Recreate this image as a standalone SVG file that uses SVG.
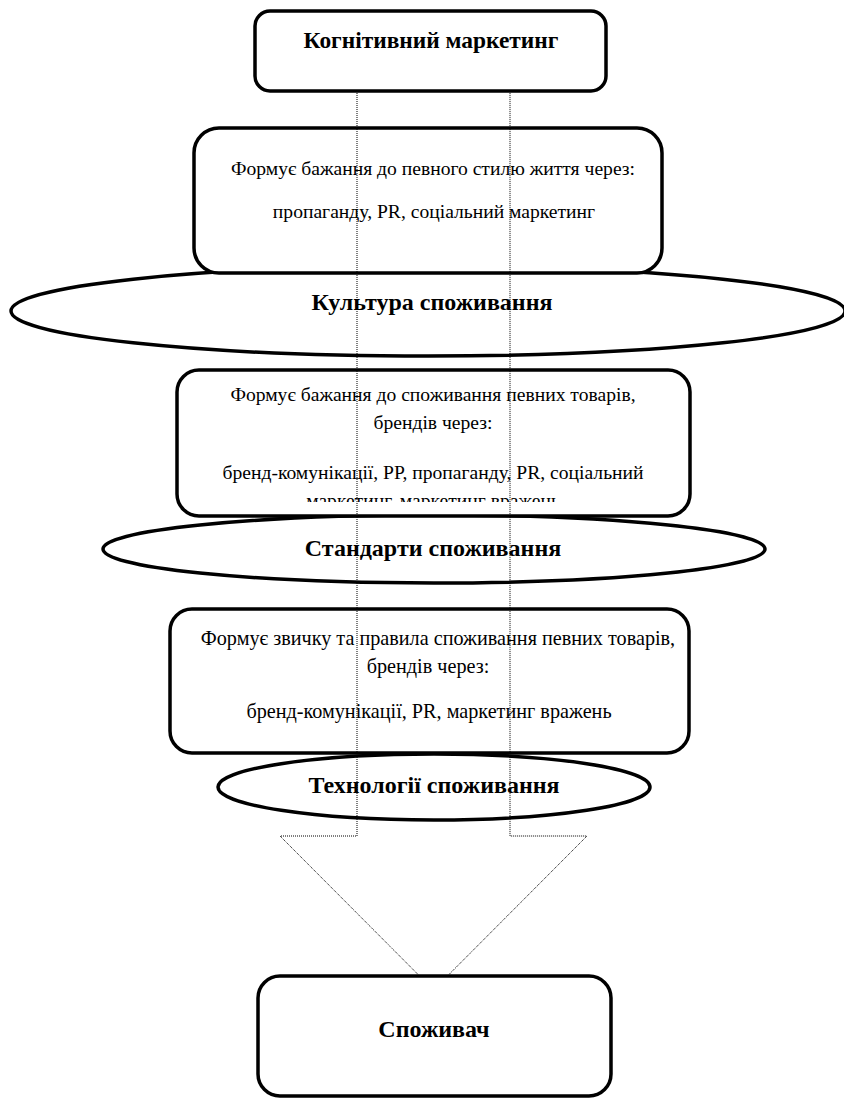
<svg xmlns="http://www.w3.org/2000/svg" width="844" height="1098" viewBox="0 0 844 1098">
<style>
.shape{fill:#fff;stroke:#000;stroke-width:3.5}
.t{font-family:"Liberation Serif","Times New Roman",serif;font-size:19.6px;fill:#000;text-anchor:middle}
.t4{font-size:20.2px}
.b{font-family:"Liberation Serif","Times New Roman",serif;font-size:24px;font-weight:bold;fill:#000;text-anchor:middle}
.arrow{fill:none;stroke:#000;stroke-width:1;stroke-dasharray:1 1}
</style>
<defs>
<clipPath id="clip3"><rect x="176" y="370" width="514" height="132"/></clipPath>
</defs>
<rect width="844" height="1098" fill="#fff"/>
<g id="node-cognitive">
<rect class="shape" x="255" y="11" width="351" height="80" rx="15"/>
<text class="b" x="431" y="48" style="font-size:23.4px">Когнітивний маркетинг</text>
</g>
<g id="node-culture">
<ellipse class="shape" cx="428" cy="311" rx="417" ry="45"/>
<text class="b" x="432" y="310">Культура споживання</text>
</g>
<g id="node-box1">
<rect class="shape" x="194" y="128" width="468" height="145" rx="25"/>
<text class="t" x="433" y="175">Формує бажання до певного стилю життя через:</text>
<text class="t" x="434" y="218">пропаганду, PR, соціальний маркетинг</text>
</g>
<g id="node-standards">
<ellipse class="shape" cx="434" cy="549" rx="331" ry="34"/>
<text class="b" x="433" y="556">Стандарти споживання</text>
</g>
<g id="node-box2">
<rect class="shape" x="177" y="370" width="513" height="146" rx="22"/>
<g clip-path="url(#clip3)">
<text class="t" x="433" y="401">Формує бажання до споживання певних товарів,</text>
<text class="t" x="433" y="429">брендів через:</text>
<text class="t" x="433" y="479">бренд-комунікації, РР, пропаганду, PR, соціальний</text>
<text class="t" x="433" y="507">маркетинг, маркетинг вражень</text>
</g>
</g>
<g id="node-technologies">
<ellipse class="shape" cx="434" cy="787" rx="216" ry="33"/>
<text class="b" x="434" y="793">Технології споживання</text>
</g>
<g id="node-box3">
<rect class="shape" x="170" y="609" width="519" height="144" rx="22"/>
<text class="t t4" x="438" y="645">Формує звичку та правила споживання певних товарів,</text>
<text class="t t4" x="428" y="673">брендів через:</text>
<text class="t t4" x="429" y="718">бренд-комунікації, PR, маркетинг вражень</text>
</g>
<g id="connectors">
<path class="arrow" d="M357,91 L357,836 L280,836 L433.5,990 L587,836 L510,836 L510,91"/>
</g>
<g id="node-consumer">
<rect class="shape" x="258" y="976" width="353" height="120" rx="22"/>
<text class="b" x="434" y="1037">Споживач</text>
</g>
</svg>
